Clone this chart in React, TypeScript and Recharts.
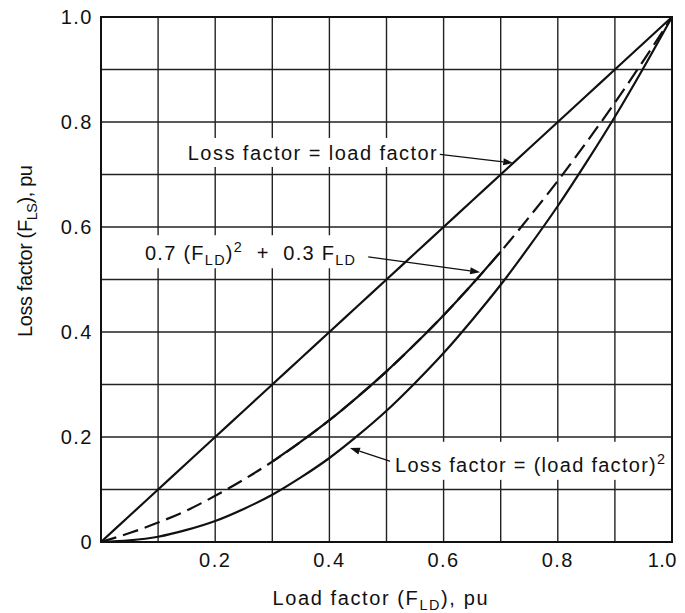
import React from "react"
import { LineChart, Line, XAxis, YAxis, CartesianGrid, ReferenceArea, ReferenceLine, ReferenceDot, Label } from "recharts"

// values (pu)
const loadFactor = [0, 0.05, 0.1, 0.15, 0.2, 0.25, 0.3, 0.35, 0.4, 0.45, 0.5, 0.55, 0.6, 0.65, 0.7, 0.75, 0.8, 0.85, 0.9, 0.95, 1.0]
const lossEqualsLoad = [0, 0.05, 0.1, 0.15, 0.2, 0.25, 0.3, 0.35, 0.4, 0.45, 0.5, 0.55, 0.6, 0.65, 0.7, 0.75, 0.8, 0.85, 0.9, 0.95, 1.0]
const lossMixed = [0, 0.017, 0.037, 0.06, 0.088, 0.119, 0.153, 0.191, 0.232, 0.277, 0.325, 0.377, 0.432, 0.491, 0.553, 0.619, 0.688, 0.761, 0.837, 0.917, 1.0]
const lossSquared = [0, 0.003, 0.01, 0.023, 0.04, 0.063, 0.09, 0.123, 0.16, 0.203, 0.25, 0.303, 0.36, 0.423, 0.49, 0.563, 0.64, 0.723, 0.81, 0.903, 1.0]

const xTicks = [0.2, 0.4, 0.6, 0.8, 1.0]
const yTicks = [0, 0.2, 0.4, 0.6, 0.8, 1.0]
const gridValues = [0.1, 0.2, 0.3, 0.4, 0.5, 0.6, 0.7, 0.8, 0.9]

const data = loadFactor.map((x, i) => ({
  x,
  linear: lossEqualsLoad[i],
  mixed: lossMixed[i],
  mixedSolid: x >= 0.3 && x <= 0.7 ? lossMixed[i] : null,
  squared: lossSquared[i],
}))

const FONT = "'Liberation Sans', Arial, Helvetica, sans-serif"
const INK = "#111"
const SUB = "72%"
const CHART_W = 677

const YTick = (p: any) => (
  <text x={p.x} y={p.y} dy={7} textAnchor="end" fontFamily={FONT} fontSize={20} letterSpacing={1.5} fill={INK}>
    {p.payload.value === 0 ? "0" : p.payload.value.toFixed(1)}
  </text>
)

// the last tick sits on the right edge: anchor it at its end so it stays inside
const XTick = (p: any) => {
  const last = p.payload.value === 1
  return (
    <text
      x={last ? Math.min(p.x + 16, CHART_W - 8) : p.x}
      y={p.y}
      dy={13}
      textAnchor={last ? "end" : "middle"}
      fontFamily={FONT}
      fontSize={20}
      letterSpacing={last ? 0.5 : 1.5}
      fill={INK}
    >
      {p.payload.value.toFixed(1)}
    </text>
  )
}

const boxLabel = (w: number, top: number, bottom: number, len: number, content: React.ReactNode) => (p: any) => (
  <g>
    <rect x={p.cx - 5} y={p.cy - top} width={w} height={top + bottom} fill="#fff" />
    <text x={p.cx} y={p.cy + 7} fontFamily={FONT} fontSize={20} fill={INK} textLength={len} lengthAdjust="spacing">
      {content}
    </text>
  </g>
)

const Arrow = (p: any) => {
  const { x1, y1, x2, y2 } = p
  const a = Math.atan2(y2 - y1, x2 - x1)
  const L = 10
  const W = 3.5
  const bx = x2 - L * Math.cos(a)
  const by = y2 - L * Math.sin(a)
  const pts = `${x2},${y2} ${bx - W * Math.sin(a)},${by + W * Math.cos(a)} ${bx + W * Math.sin(a)},${by - W * Math.cos(a)}`
  return (
    <g>
      <line x1={x1} y1={y1} x2={bx} y2={by} stroke={INK} strokeWidth={1.3} />
      <polygon points={pts} fill={INK} />
    </g>
  )
}

export default function App() {
  return (
    <LineChart width={CHART_W} height={605} data={data} margin={{ top: 9, right: 13, left: 33, bottom: 31 }}>
      <CartesianGrid horizontalValues={gridValues} verticalValues={gridValues} stroke="#222" strokeWidth={1.4} />
      <XAxis
        dataKey="x"
        type="number"
        domain={[0, 1]}
        ticks={xTicks}
        tick={<XTick />}
        tickSize={0}
        tickMargin={12}
        axisLine={false}
        height={40}
      >
        <Label
          content={() => (
            <text x={372} y={597} textAnchor="middle" fontFamily={FONT} fontSize={20} fill={INK} textLength={215} lengthAdjust="spacing">
              Load factor (F<tspan dy={5} fontSize={SUB}>LD</tspan>
              <tspan dy={-5}>), pu</tspan>
            </text>
          )}
        />
      </XAxis>
      <YAxis
        type="number"
        domain={[0, 1]}
        ticks={yTicks}
        tick={<YTick />}
        tickSize={0}
        tickMargin={8}
        axisLine={false}
        width={60}
      >
        <Label
          content={() => (
            <text
              x={17}
              y={243}
              transform="rotate(-90 17 243)"
              dy={7}
              textAnchor="middle"
              fontFamily={FONT}
              fontSize={20}
              fill={INK}
              textLength={172}
              lengthAdjust="spacing"
            >
              Loss factor (F<tspan dy={5} fontSize={SUB}>LS</tspan>
              <tspan dy={-5}>), pu</tspan>
            </text>
          )}
        />
      </YAxis>
      <ReferenceArea x1={0} x2={1} y1={0} y2={1} fill="none" fillOpacity={0} stroke={INK} strokeWidth={2} />

      <Line type="monotone" dataKey="linear" stroke={INK} strokeWidth={2.2} dot={false} isAnimationActive={false} />
      <Line type="monotone" dataKey="mixed" stroke={INK} strokeWidth={2.2} strokeDasharray="16 7" dot={false} isAnimationActive={false} />
      <Line type="monotone" dataKey="mixedSolid" stroke={INK} strokeWidth={2.2} dot={false} isAnimationActive={false} />
      <Line type="monotone" dataKey="squared" stroke={INK} strokeWidth={2.2} dot={false} isAnimationActive={false} />

      <ReferenceDot x={0.152} y={0.741} r={0} shape={boxLabel(257, 15, 14, 249, "Loss factor = load factor")} />
      <ReferenceDot
        x={0.077}
        y={0.55}
        r={0}
        shape={boxLabel(222, 18, 15, 210, (
          <>
            0.7 (F<tspan dy={5} fontSize={SUB}>LD</tspan>
            <tspan dy={-5}>)</tspan>
            <tspan dy={-8} fontSize={SUB}>2</tspan>
            <tspan dy={8}>{"\u00a0\u00a0+\u00a0\u00a00.3 F"}</tspan>
            <tspan dy={5} fontSize={SUB}>LD</tspan>
          </>
        ))}
      />
      <ReferenceDot
        x={0.515}
        y={0.147}
        r={0}
        shape={boxLabel(278, 23, 15, 270, (
          <>
            Loss factor = (load factor)<tspan dy={-8} fontSize={SUB}>2</tspan>
          </>
        ))}
      />

      <ReferenceLine segment={[{ x: 0.59, y: 0.739 }, { x: 0.722, y: 0.722 }]} shape={Arrow} />
      <ReferenceLine segment={[{ x: 0.468, y: 0.543 }, { x: 0.664, y: 0.514 }]} shape={Arrow} />
      <ReferenceLine segment={[{ x: 0.511, y: 0.152 }, { x: 0.436, y: 0.179 }]} shape={Arrow} />
    </LineChart>
  )
}
